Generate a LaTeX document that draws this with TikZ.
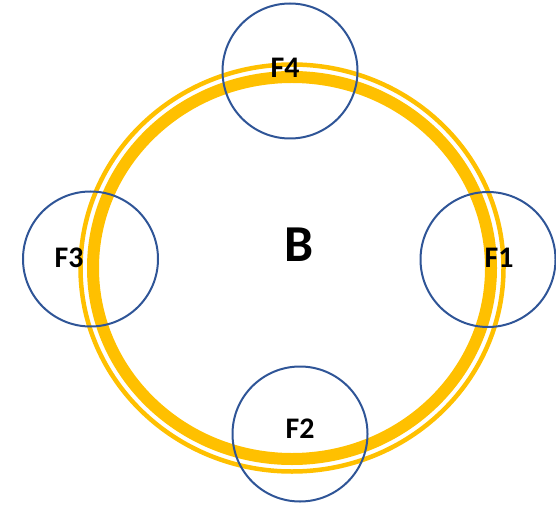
\documentclass[tikz,border=0pt]{standalone}
\usepackage{fontspec}
\setmainfont{Carlito}
\usepackage{tikz}
\usetikzlibrary{positioning}
\definecolor{ringgold}{RGB}{255,192,0}
\definecolor{satblue}{RGB}{47,85,151}

\begin{document}
\begin{tikzpicture}[
  x=1bp, y=-1bp,
  sat/.style={draw=satblue, line width=2bp, circle, minimum size=135bp, inner sep=0pt},
  lab/.style={font=\fontsize{30}{30}\selectfont\bfseries, inner sep=0pt},
  big/.style={font=\fontsize{52}{52}\selectfont\bfseries, inner sep=0pt},
  band/.style={draw=ringgold, line width=12bp},
  rim/.style={draw=ringgold, line width=4.5bp}
]
\useasboundingbox (0,0) rectangle (556,506);
% ring B
\coordinate (c) at (292,268);
\draw[rim] (c) ellipse [x radius=211.5bp, y radius=203.5bp];
\draw[band] (c) ellipse [x radius=199bp, y radius=191bp];
\node[big] (b) at (299,245) {B};
% satellites
\node[sat] (f1) at (488,259.5) {};
\node[sat] (f2) at (300,434) {};
\node[sat] (f3) at (90.5,259) {};
\node[sat] (f4) at (290,71) {};
\node[lab] (l1) at (499,258) {F1};
\node[lab] (l2) at (300,429) {F2};
\node[lab] (l3) at (69,258) {F3};
\node[lab] (l4) at (285,68) {F4};
\end{tikzpicture}
\end{document}
